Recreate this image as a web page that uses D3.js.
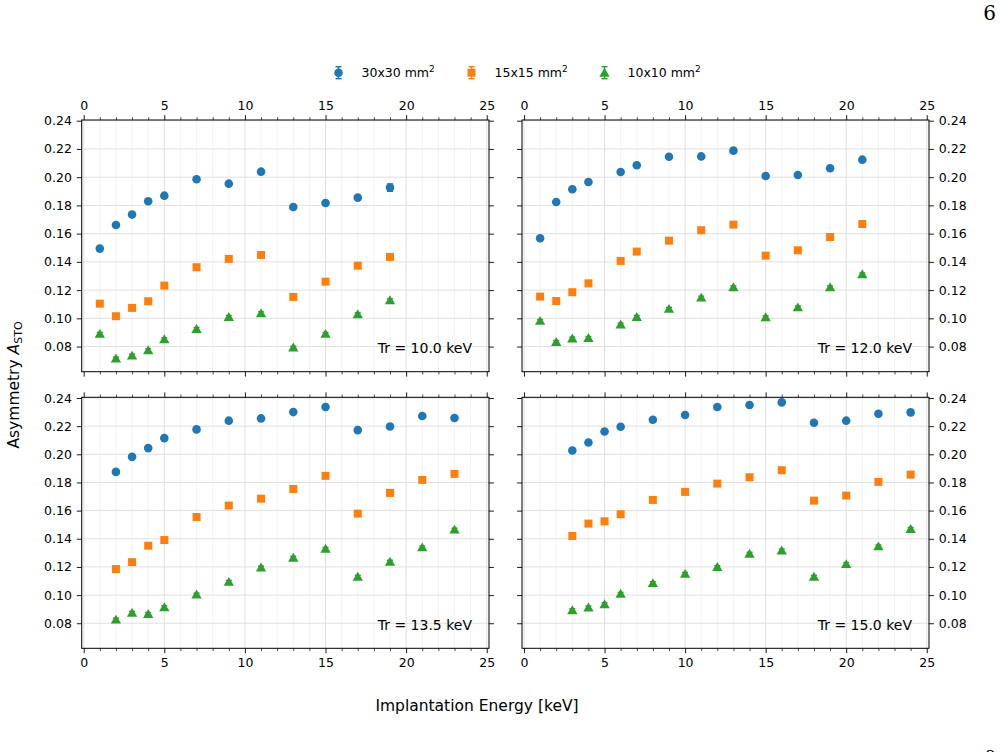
<!DOCTYPE html>
<html>
<head>
<meta charset="utf-8">
<script src="https://cdn.jsdelivr.net/npm/d3@7"></script>
<style>
  body { margin: 0; background: #fff; }
  svg { display: block; font-family: "DejaVu Sans", sans-serif; }
</style>
</head>
<body>
<div id="chart"></div>
<script>
// --- data ---
const seriesNames = ['30x30', '15x15', '10x10'];
const seriesColors = ['#1f77b4', '#ff7f0e', '#2ca02c'];
const panelLabels = ['Tr = 10.0 keV', 'Tr = 12.0 keV', 'Tr = 13.5 keV', 'Tr = 15.0 keV'];

const energy10 = [1, 2, 3, 4, 5, 7, 9, 11, 13, 15, 17, 19];
const a30_10 = [0.1494, 0.1661, 0.1735, 0.1829, 0.1869, 0.1985, 0.1954, 0.2039, 0.1789, 0.1817, 0.1855, 0.1926];
const a15_10 = [0.1104, 0.1015, 0.1074, 0.1121, 0.1232, 0.1362, 0.1421, 0.1449, 0.1152, 0.1260, 0.1373, 0.1435];
const a10_10 = [0.0890, 0.0715, 0.0736, 0.0774, 0.0852, 0.0925, 0.1010, 0.1036, 0.0793, 0.0890, 0.1029, 0.1128];

const energy12 = [1, 2, 3, 4, 6, 7, 9, 11, 13, 15, 17, 19, 21];
const a30_12 = [0.1567, 0.1824, 0.1914, 0.1966, 0.2037, 0.2084, 0.2145, 0.2147, 0.2188, 0.2008, 0.2015, 0.2063, 0.2124];
const a15_12 = [0.1154, 0.1123, 0.1185, 0.1248, 0.1407, 0.1473, 0.1550, 0.1624, 0.1664, 0.1444, 0.1482, 0.1576, 0.1668];
const a10_12 = [0.0982, 0.0833, 0.0857, 0.0861, 0.0956, 0.1010, 0.1067, 0.1147, 0.1220, 0.1008, 0.1078, 0.1220, 0.1312];

const energy135 = [2, 3, 4, 5, 7, 9, 11, 13, 15, 17, 19, 21, 23];
const a30_135 = [0.1875, 0.1982, 0.2044, 0.2115, 0.2177, 0.2239, 0.2255, 0.2300, 0.2336, 0.2172, 0.2198, 0.2272, 0.2258];
const a15_135 = [0.1185, 0.1234, 0.1351, 0.1391, 0.1555, 0.1636, 0.1685, 0.1754, 0.1847, 0.1579, 0.1726, 0.1818, 0.1861];
const a10_135 = [0.0826, 0.0874, 0.0866, 0.0914, 0.1004, 0.1094, 0.1196, 0.1265, 0.1329, 0.1130, 0.1237, 0.1339, 0.1465];

const energy15 = [3, 4, 5, 6, 8, 10, 12, 14, 16, 18, 20, 22, 24];
const a30_15 = [0.2027, 0.2084, 0.2162, 0.2196, 0.2246, 0.2279, 0.2336, 0.2350, 0.2369, 0.2224, 0.2239, 0.2288, 0.2298];
const a15_15 = [0.1420, 0.1508, 0.1524, 0.1574, 0.1676, 0.1733, 0.1792, 0.1837, 0.1887, 0.1671, 0.1707, 0.1804, 0.1856];
const a10_15 = [0.0893, 0.0912, 0.0935, 0.1009, 0.1085, 0.1151, 0.1199, 0.1294, 0.1317, 0.1130, 0.1220, 0.1346, 0.1470];

// error bars are tiny; one point (30x30, Tr=10, 19 keV) has a visibly larger one
const errDefault = 0.0010;
const errLarge = { panel: 0, series: 0, energy: 19, err: 0.0026 };

const xTicks = [0, 5, 10, 15, 20, 25];
const xMinorTicks = d3.range(0, 26);
const yTicks = [0.08, 0.10, 0.12, 0.14, 0.16, 0.18, 0.20, 0.22, 0.24];
const xDomain = [-0.124, 25.14];
const yDomain = [0.0622, 0.2405];

const panelData = [
    { energy: energy10, series: [a30_10, a15_10, a10_10] },
    { energy: energy12, series: [a30_12, a15_12, a10_12] },
    { energy: energy135, series: [a30_135, a15_135, a10_135] },
    { energy: energy15, series: [a30_15, a15_15, a10_15] }
];

// --- layout ---
const W = 1001, H = 752;
const cols = [[81.7, 489], [522, 929]];
const rows = [[120, 371.7], [397.3, 648.3]];
const TICK = 4.9, MINOR = 2.8, PAD = 4.9;
const tickFont = '12.5px';

const svg = d3.select('#chart').append('svg')
    .attr('width', W).attr('height', H);

const symbols = [d3.symbolCircle, d3.symbolSquare, d3.symbolTriangle];
const symSizes = [58, 64, 46];

function drawMarker(g, i, x, y) {
    g.append('path')
        .attr('transform', `translate(${x},${y + (i === 2 ? 1 : 0)})`)
        .attr('d', d3.symbol().type(symbols[i]).size(symSizes[i])())
        .attr('fill', seriesColors[i]);
}

function drawErr(g, color, x, y0, y1) {
    g.append('line').attr('x1', x).attr('x2', x).attr('y1', y0).attr('y2', y1)
        .attr('stroke', color).attr('stroke-width', 1.4);
    [y0, y1].forEach(yy => g.append('line')
        .attr('x1', x - 3).attr('x2', x + 3).attr('y1', yy).attr('y2', yy)
        .attr('stroke', color).attr('stroke-width', 1.4));
}

panelData.forEach((p, pi) => {
    const col = pi % 2, row = Math.floor(pi / 2);
    const [x0, x1] = cols[col];
    const [y0, y1] = rows[row];
    const x = d3.scaleLinear().domain(xDomain).range([x0, x1]);
    const y = d3.scaleLinear().domain(yDomain).range([y1, y0]);
    const g = svg.append('g');

    // grid
    g.append('g').selectAll('line').data(xMinorTicks.filter(v => v % 5 !== 0)).join('line')
        .attr('x1', d => x(d)).attr('x2', d => x(d)).attr('y1', y0).attr('y2', y1)
        .attr('stroke', '#f0f0f0').attr('stroke-width', 0.8);
    g.append('g').selectAll('line').data(xTicks).join('line')
        .attr('x1', d => x(d)).attr('x2', d => x(d)).attr('y1', y0).attr('y2', y1)
        .attr('stroke', '#e0e0e0').attr('stroke-width', 1);
    g.append('g').selectAll('line').data(yTicks).join('line')
        .attr('x1', x0).attr('x2', x1).attr('y1', d => y(d)).attr('y2', d => y(d))
        .attr('stroke', '#e0e0e0').attr('stroke-width', 1);

    // points with error bars
    p.series.forEach((vals, si) => {
        const sg = g.append('g');
        vals.forEach((v, k) => {
            const e = p.energy[k];
            const err = (errLarge.panel === pi && errLarge.series === si && errLarge.energy === e)
                ? errLarge.err : errDefault;
            drawErr(sg, seriesColors[si], x(e), y(v - err), y(v + err));
            drawMarker(sg, si, x(e), y(v));
        });
    });

    // axes, ticks on all four sides, labels on the outer sides only
    const fmt = d3.format('.2f');
    const axes = [
        { gen: d3.axisTop(x).tickValues(xTicks), at: `translate(0,${y0})`, label: row === 0, minor: d3.axisTop(x) },
        { gen: d3.axisBottom(x).tickValues(xTicks), at: `translate(0,${y1})`, label: row === 1, minor: d3.axisBottom(x) },
        { gen: d3.axisLeft(y).tickValues(yTicks), at: `translate(${x0},0)`, label: col === 0 },
        { gen: d3.axisRight(y).tickValues(yTicks), at: `translate(${x1},0)`, label: col === 1 }
    ];
    axes.forEach((a, ai) => {
        const isY = ai >= 2;
        a.gen.tickSize(TICK).tickPadding(PAD).tickSizeOuter(0)
            .tickFormat(a.label ? (isY ? fmt : d3.format('d')) : () => '');
        const ag = g.append('g').attr('transform', a.at).call(a.gen);
        ag.select('.domain').remove();
        ag.selectAll('.tick line').attr('stroke', '#000').attr('stroke-width', 0.9);
        ag.selectAll('text').attr('font-size', tickFont).attr('fill', '#000')
            .attr('font-family', '"DejaVu Sans", sans-serif');
        if (a.minor) {
            a.minor.tickValues(xMinorTicks.filter(v => v % 5 !== 0)).tickSize(MINOR).tickSizeOuter(0).tickFormat(() => '');
            const mg = g.append('g').attr('transform', a.at).call(a.minor);
            mg.select('.domain').remove();
            mg.selectAll('.tick line').attr('stroke', '#000').attr('stroke-width', 0.7);
        }
    });

    // frame
    g.append('rect').attr('x', x0).attr('y', y0).attr('width', x1 - x0).attr('height', y1 - y0)
        .attr('fill', 'none').attr('stroke', '#000').attr('stroke-width', 1);

    g.append('text')
        .attr('x', x1 - 17).attr('y', y1 - 18.5)
        .attr('text-anchor', 'end').attr('font-size', '14px').attr('fill', '#000')
        .text(panelLabels[pi]);
});

// legend
const legendX = [338.5, 471.5, 604.5];
const legendY = 72.7;
const leg = svg.append('g');
seriesNames.forEach((name, i) => {
    const lx = legendX[i];
    drawErr(leg, seriesColors[i], lx, legendY - 6, legendY + 6);
    drawMarker(leg, i, lx, legendY);
    const t = leg.append('text')
        .attr('x', lx + 23).attr('y', legendY + 4.5)
        .attr('font-size', '12.5px').attr('fill', '#000');
    t.append('tspan').text(name + ' mm');
    t.append('tspan').attr('font-size', '9px').attr('dy', -5).text('2');
});

// axis labels
svg.append('text')
    .attr('x', 477).attr('y', 711)
    .attr('text-anchor', 'middle').attr('font-size', '15.5px').attr('fill', '#000')
    .text('Implantation Energy [keV]');

const yl = svg.append('text')
    .attr('transform', 'translate(18.5,385) rotate(-90)')
    .attr('text-anchor', 'middle').attr('font-size', '15.5px').attr('fill', '#000');
yl.append('tspan').text('Asymmetry ');
yl.append('tspan').attr('font-style', 'italic').text('A');
yl.append('tspan').attr('font-size', '11px').attr('dy', 3).text('STO');

// page furniture
svg.append('text')
    .attr('x', 996).attr('y', 20)
    .attr('text-anchor', 'end').attr('font-size', '20px')
    .attr('font-family', '"DejaVu Serif", "Liberation Serif", serif')
    .text('6');
svg.append('text')
    .attr('x', 996).attr('y', 762)
    .attr('text-anchor', 'end').attr('font-size', '16px')
    .attr('font-family', '"DejaVu Serif", "Liberation Serif", serif')
    .text('2');
</script>
</body>
</html>
